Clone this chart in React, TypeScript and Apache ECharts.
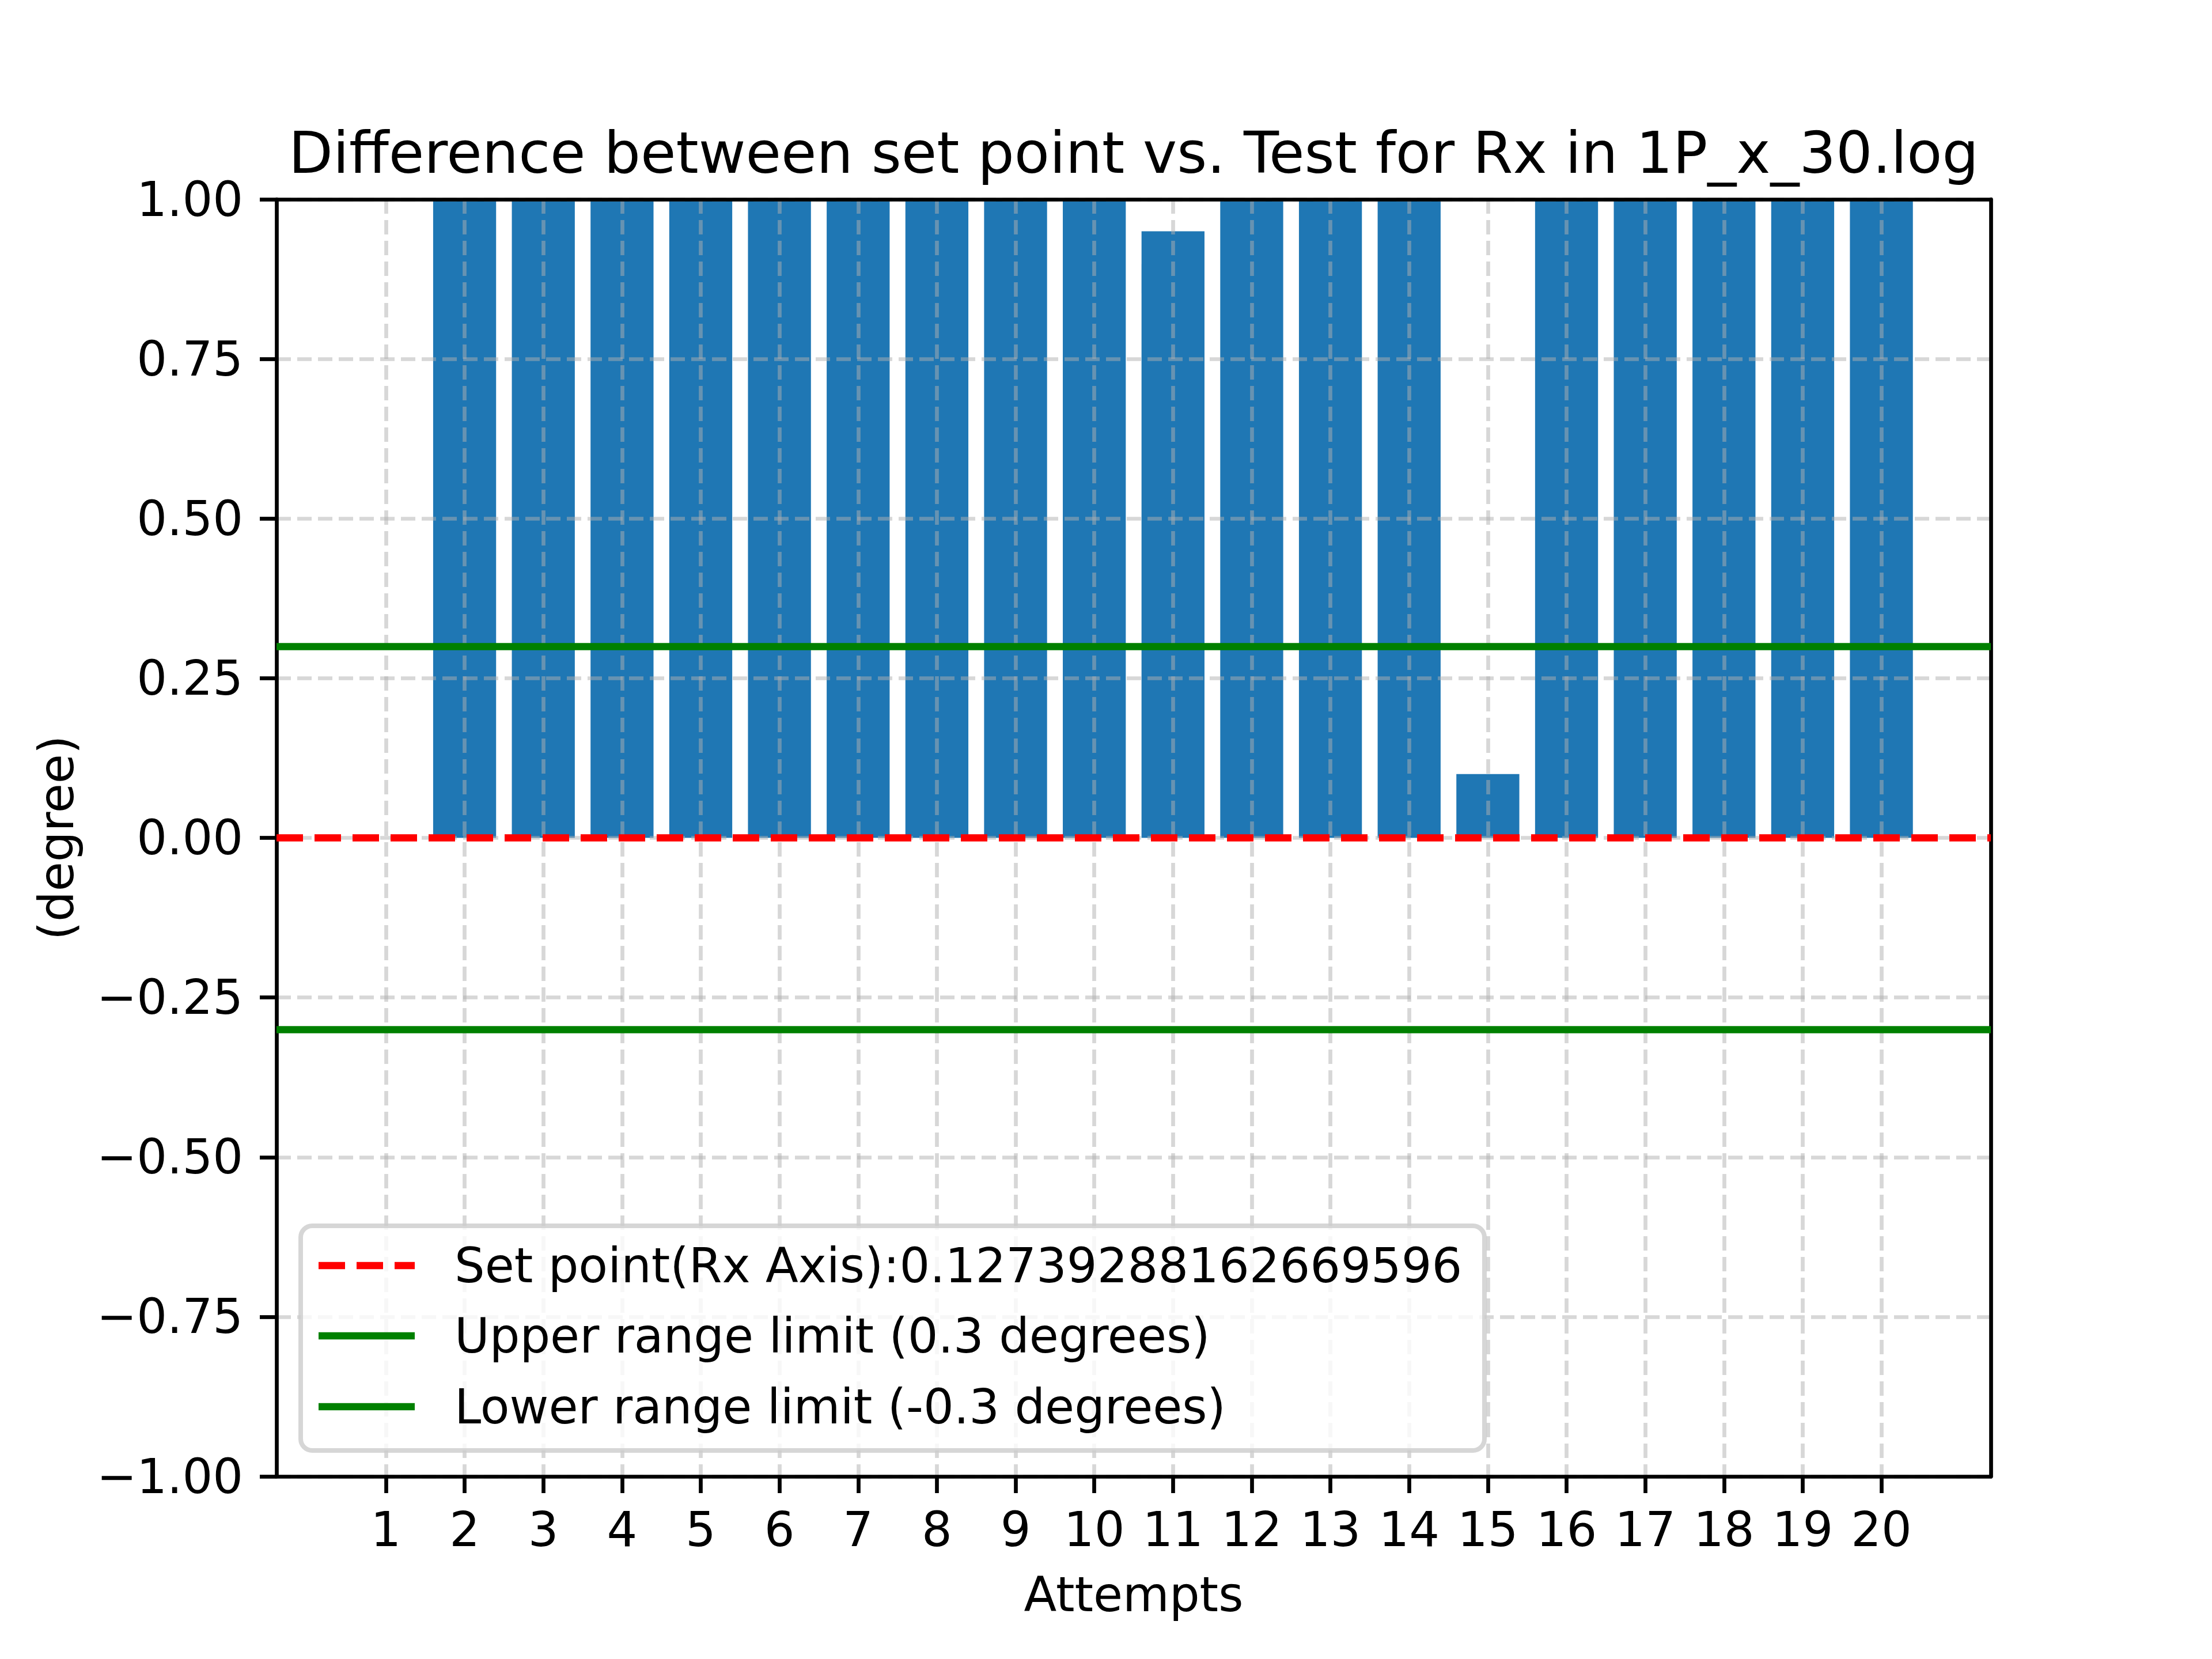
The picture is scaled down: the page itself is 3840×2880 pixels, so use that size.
import { useEffect, useRef } from 'react';
import * as echarts from 'echarts';

// attempts on the x axis and the difference (degree) for each
const attempts = [1, 2, 3, 4, 5, 6, 7, 8, 9, 10, 11, 12, 13, 14, 15, 16, 17, 18, 19, 20];
const deviation = [0, 1.5, 1.5, 1.5, 1.5, 1.5, 1.5, 1.5, 1.5, 1.5, 0.95, 1.5, 1.5, 1.5, 0.1, 1.5, 1.5, 1.5, 1.5, 1.5];

const setPointLevel = [0];
const upperLimit = [0.3];
const lowerLimit = [-0.3];

const chartTitle = 'Difference between set point vs. Test for Rx in 1P_x_30.log';
const legendLabels = [
  'Set point(Rx Axis):0.12739288162669596',
  'Upper range limit (0.3 degrees)',
  'Lower range limit (-0.3 degrees)'
];

const W = 3840;
const H = 2880;
const PLOT_L = 480;
const PLOT_R = 3456;
const PLOT_T = 346;
const PLOT_B = 2563;
const FONT = '"DejaVu Sans", "Liberation Sans", sans-serif';

// matplotlib style x limits: bar span with 5% margins
const BAR_W = 0.8;
const spanLo = attempts[0] - BAR_W / 2;
const spanHi = attempts[attempts.length - 1] + BAR_W / 2;
const X_MIN = spanLo - 0.05 * (spanHi - spanLo);
const X_MAX = spanHi + 0.05 * (spanHi - spanLo);

const App = () => {
  const chartRef = useRef<HTMLDivElement>(null);

  useEffect(() => {
    if (!chartRef.current) return;
    document.body.style.margin = '0';
    const chart = echarts.init(chartRef.current, null, { renderer: 'svg' });

    const pxPerUnit = (PLOT_R - PLOT_L) / (X_MAX - X_MIN);
    const gridLine = { color: 'rgba(176,176,176,0.5)', width: 6.7, type: [25, 11] as any };

    const refLine = (name: string, level: number[], color: string, dashed: boolean) => ({
      name,
      type: 'line',
      data: [],
      z: 5,
      silent: true,
      markLine: {
        silent: true,
        symbol: 'none',
        label: { show: false },
        animation: false,
        lineStyle: { color, width: 12.5, type: dashed ? [46, 20] : 'solid', opacity: 1 },
        emphasis: { disabled: true },
        data: level.map(v => ({ yAxis: v }))
      }
    });

    const rowY = [2197, 2319, 2442];
    const graphics: any[] = [
      {
        type: 'text',
        z: 21,
        x: (PLOT_L + PLOT_R) / 2,
        y: 265,
        style: {
          text: chartTitle,
          fontSize: 100,
          fontFamily: FONT,
          fill: '#000',
          align: 'center',
          verticalAlign: 'middle'
        }
      },
      {
        type: 'rect',
        z: 20,
        shape: { x: 522, y: 2128, width: 2055, height: 390, r: 20 },
        style: { fill: 'rgba(255,255,255,0.8)', stroke: 'rgba(204,204,204,0.8)', lineWidth: 8 }
      },
      {
        type: 'line',
        z: 21,
        shape: { x1: 553, y1: rowY[0], x2: 720, y2: rowY[0] },
        style: { stroke: '#ff0000', lineWidth: 12.5, lineDash: [46, 20] }
      },
      {
        type: 'line',
        z: 21,
        shape: { x1: 553, y1: rowY[1], x2: 720, y2: rowY[1] },
        style: { stroke: '#008000', lineWidth: 12.5 }
      },
      {
        type: 'line',
        z: 21,
        shape: { x1: 553, y1: rowY[2], x2: 720, y2: rowY[2] },
        style: { stroke: '#008000', lineWidth: 12.5 }
      },
      ...legendLabels.map((t, i) => ({
        type: 'text',
        z: 21,
        x: 789,
        y: rowY[i],
        style: { text: t, fontSize: 83, fontFamily: FONT, fill: '#000', verticalAlign: 'middle' }
      }))
    ];

    const option: any = {
      animation: false,
      backgroundColor: '#fff',
      grid: {
        left: PLOT_L,
        right: W - PLOT_R,
        top: PLOT_T,
        bottom: H - PLOT_B,
        containLabel: false,
        outerBoundsMode: 'none'
      },
      xAxis: [
        {
          type: 'value',
          min: X_MIN,
          max: X_MAX,
          z: 3,
          name: 'Attempts',
          nameLocation: 'middle',
          nameGap: 164,
          nameTextStyle: { fontSize: 83, fontFamily: FONT, color: '#000' },
          axisLine: { onZero: false, lineStyle: { color: '#000', width: 6.7 } },
          axisTick: { show: true, length: 29, customValues: attempts, lineStyle: { color: '#000', width: 6.7 } },
          axisLabel: {
            customValues: attempts,
            margin: 51,
            fontSize: 83,
            fontFamily: FONT,
            color: '#000',
            formatter: (v: number) => String(Math.round(v))
          },
          splitLine: { show: true, lineStyle: gridLine }
        },
        {
          type: 'value',
          position: 'top',
          min: X_MIN,
          max: X_MAX,
          z: 3,
          axisLine: { onZero: false, lineStyle: { color: '#000', width: 6.7 } },
          axisTick: { show: false },
          axisLabel: { show: false },
          splitLine: { show: false }
        }
      ],
      yAxis: [
        {
          type: 'value',
          min: -1,
          max: 1,
          interval: 0.25,
          z: 3,
          name: '(degree)',
          nameLocation: 'middle',
          nameGap: 340,
          nameTextStyle: { fontSize: 83, fontFamily: FONT, color: '#000' },
          axisLine: { show: true, onZero: false, lineStyle: { color: '#000', width: 6.7 } },
          axisTick: { show: true, length: 29, lineStyle: { color: '#000', width: 6.7 } },
          axisLabel: {
            margin: 58,
            fontSize: 83,
            fontFamily: FONT,
            color: '#000',
            formatter: (v: number) => (v < 0 ? '\u2212' : '') + Math.abs(v).toFixed(2)
          },
          splitLine: { show: true, lineStyle: gridLine }
        },
        {
          type: 'value',
          position: 'right',
          min: -1,
          max: 1,
          z: 3,
          axisLine: { show: true, onZero: false, lineStyle: { color: '#000', width: 6.7 } },
          axisTick: { show: false },
          axisLabel: { show: false },
          splitLine: { show: false }
        }
      ],
      series: [
        {
          name: 'Difference',
          type: 'bar',
          xAxisIndex: 0,
          yAxisIndex: 0,
          z: 2,
          barWidth: BAR_W * pxPerUnit,
          clip: true,
          itemStyle: { color: '#1f77b4' },
          data: attempts.map((a, i) => [a, deviation[i]])
        },
        refLine(legendLabels[0], setPointLevel, '#ff0000', true),
        refLine(legendLabels[1], upperLimit, '#008000', false),
        refLine(legendLabels[2], lowerLimit, '#008000', false)
      ],
      graphic: graphics
    };

    chart.setOption(option);

    return () => {
      chart.dispose();
    };
  }, []);

  return <div ref={chartRef} style={{ position: 'absolute', left: 0, top: 0, width: W, height: H }} />;
};

export default App;
